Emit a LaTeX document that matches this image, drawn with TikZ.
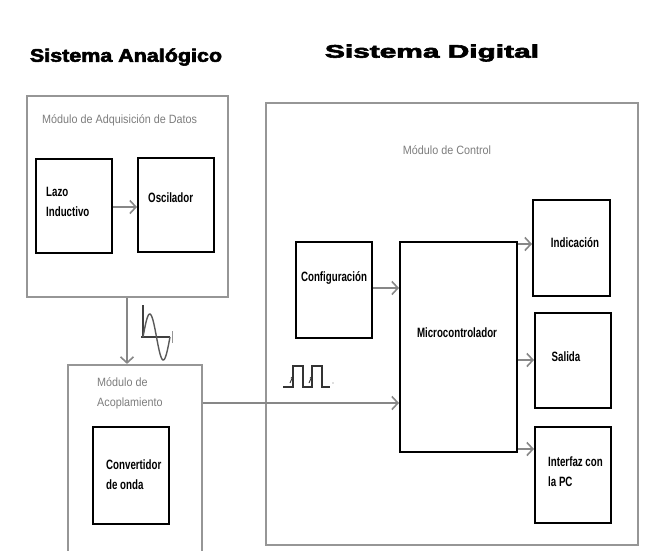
\documentclass[tikz,border=0pt]{standalone}
\usepackage{fontspec}
\setmainfont{Liberation Sans}
\newfontfamily\bxf{Liberation Sans}[FakeStretch=0.72]
\newfontfamily\lbf{Liberation Sans}[FakeStretch=0.9]
\newfontfamily\ttlf{Liberation Sans}[FakeBold=3]
\usetikzlibrary{arrows.meta}
\definecolor{lgray}{RGB}{150,150,150}
\definecolor{agray}{RGB}{135,135,135}
\definecolor{tgray}{RGB}{125,125,125}
\tikzset{
  outerbox/.style={draw=lgray,line width=2.2pt,inner sep=0pt,minimum width=#1},
  innerbox/.style={draw=black,line width=2pt,inner sep=0pt},
  arr/.style={draw=agray,line width=2.4pt,-{Straight Barb[length=6pt,width=13pt,line width=1.6pt]}},
  boxtext/.style={font=\bxf\bfseries\fontsize{13.5}{20}\selectfont,inner sep=0pt,align=left},
  lbl/.style={font=\lbf\fontsize{12}{20}\selectfont,text=tgray,inner sep=0pt,align=left},
  ttl/.style={font=\ttlf\bfseries\fontsize{18.2}{20}\selectfont,inner sep=0pt}
}
\begin{document}
\begin{tikzpicture}[x=1pt,y=-1pt]
\clip (0,0) rectangle (655,550);
\fill[white] (0,0) rectangle (655,550);
% titles
\node[ttl] (t1) at (126,57) {\scalebox{1.18}[1]{Sistema Analógico}};
\node[ttl] (t2) at (432,53) {\scalebox{1.64}[1]{Sistema Digital}};
% analog side
\node[outerbox=201pt,minimum height=201pt] (adq) at (127.5,196.5) {};
\node[lbl,anchor=west] (adqL) at (42,120) {Módulo de Adquisición de Datos};
\node[innerbox,minimum width=76pt,minimum height=94pt] (lazo) at (74,206) {};
\node[boxtext,anchor=north west] (lazoT) at (46,187) {Lazo\\Inductivo};
\node[innerbox,minimum width=76pt,minimum height=94pt] (osc) at (176,205) {};
\node[boxtext,anchor=west] (oscT) at (148,198) {Oscilador};
\node[outerbox=134pt,minimum height=190pt] (acop) at (135,460) {};
\node[lbl,anchor=north west] (acopL) at (97,377) {Módulo de\\Acoplamiento};
\node[innerbox,minimum width=76pt,minimum height=97pt] (conv) at (131,475.5) {};
\node[boxtext,anchor=north west] (convT) at (106,460) {Convertidor\\de onda};
% digital side
\node[outerbox=372pt,minimum height=442pt] (ctrl) at (452,324) {};
\node[lbl] (ctrlL) at (447,150) {Módulo de Control};
\node[innerbox,minimum width=76pt,minimum height=96pt] (conf) at (334,290) {};
\node[boxtext] (confT) at (334,278) {Configuración};
\node[innerbox,minimum width=117pt,minimum height=210pt] (micro) at (458.5,347) {};
\node[boxtext] (microT) at (457,333) {Microcontrolador};
\node[innerbox,minimum width=77pt,minimum height=96pt] (ind) at (571.5,248) {};
\node[boxtext] (indT) at (575,243) {Indicación};
\node[innerbox,minimum width=76pt,minimum height=95pt] (sal) at (573,360.5) {};
\node[boxtext] (salT) at (566,357) {Salida};
\node[innerbox,minimum width=76pt,minimum height=96pt] (pc) at (573,475) {};
\node[boxtext,anchor=north west] (pcT) at (548,457) {Interfaz con\\la PC};
% connectors
\draw[arr] (lazo.east |- 0,207) -- (osc.west |- 0,207);
\draw[arr] (adq.south -| 127,0) -- (acop.north -| 127,0);
\draw[arr] (acop.east |- 0,403) -- (micro.west |- 0,403);
\draw[arr] (conf.east |- 0,288) -- (micro.west |- 0,288);
\draw[arr] (micro.east |- 0,244) -- (ind.west |- 0,244);
\draw[arr] (micro.east |- 0,360) -- (sal.west |- 0,360);
\draw[arr] (micro.east |- 0,449) -- (pc.west |- 0,449);
% sine icon
\draw[black!75,line width=1.6pt] (143,305) -- (143,337);
\draw[black!75,line width=1.6pt] (141,337) -- (170,337);
\draw[lgray,line width=0.8pt] (172,331) -- (172,343);
\draw[black!65,line width=1.4pt] plot[domain=0:360,samples=50] ({143+\x/360*27},{337-23*sin(\x)});
% square wave icon
\draw[black!80,line width=1.6pt] (283,387) -- (293,387) -- (293,366) -- (303,366) -- (303,387) -- (312,387) -- (312,366) -- (322,366) -- (322,387) -- (330,387);
\draw[black!80,line width=0.9pt,-{Stealth[length=3pt,width=3pt]}] (290,383) -- (293,376);
\draw[black!80,line width=0.9pt,-{Stealth[length=3pt,width=3pt]}] (309,383) -- (312,376);
\fill[lgray!60] (333,383) circle (0.8);
\end{tikzpicture}
\end{document}
